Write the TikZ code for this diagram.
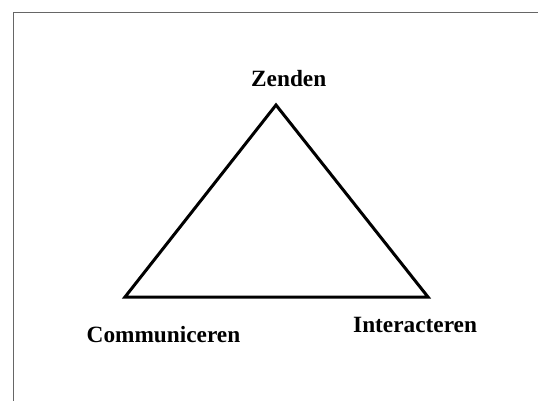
\documentclass[tikz,border=0pt]{standalone}
\usepackage{fontspec}
\setmainfont{Liberation Serif}
\begin{document}
\begin{tikzpicture}[x=1pt,y=-1pt,
  lbl/.style={anchor=base west,inner sep=0pt,font=\fontsize{23.3}{28}\selectfont\bfseries},
  edge/.style={line width=3pt,line join=miter,draw=black},
  frame/.style={line width=1.3pt,draw=black!60}]
\useasboundingbox (0,0) rectangle (538,401);
\fill[white] (0,0) rectangle (538,401);
\draw[frame] (13.4,401) -- (13.4,12.4) -- (538,12.4);
\coordinate (top) at (276,105);
\coordinate (bl) at (125,297);
\coordinate (br) at (428,297);
\draw[edge] (top) -- (br) -- (bl) -- cycle;
\node[lbl] (zenden) at (251,87) {Zenden};
\node[lbl] (comm) at (86.5,342) {Communiceren};
\node[lbl] (inter) at (353,332) {Interacteren};
\end{tikzpicture}
\end{document}
